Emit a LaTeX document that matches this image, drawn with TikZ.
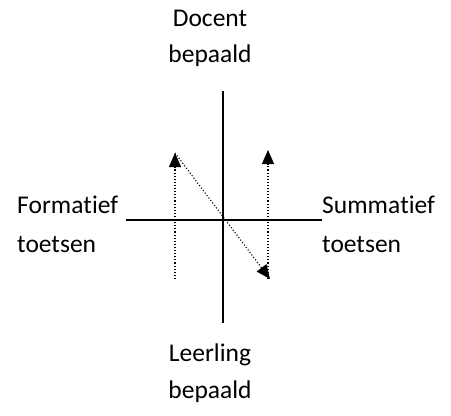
\documentclass[tikz,border=0pt]{standalone}
\usepackage{fontspec}
\setmainfont[Ligatures=NoCommon]{Carlito}
\usetikzlibrary{arrows.meta}
\begin{document}
\begin{tikzpicture}[x=1pt,y=-1pt,
  lbl/.style={font=\fontsize{25.5}{30}\selectfont, inner sep=0pt},
  axis/.style={line width=1.6pt},
  dot/.style={dotted, line width=1.1pt, -{Triangle[length=14pt,width=12pt]}}]
\useasboundingbox (0,0) rectangle (451,416);
\coordinate (vt) at (223,91);
\coordinate (vb) at (223,323);
\coordinate (hl) at (126,220);
\coordinate (hr) at (322,220);
\draw[axis] (vt) -- (vb);
\draw[axis] (hl) -- (hr);
\coordinate (l0) at (175,279);
\coordinate (l1) at (175,153);
\coordinate (r0) at (268,279);
\coordinate (r1) at (268,150);
\coordinate (d1) at (270,279);
\draw[dot] (l0) -- (l1);
\draw[dot] (r0) -- (r1);
\draw[dot] (l1) -- (d1);
\node[lbl] (docent) at (210,18) {Docent};
\node[lbl] (dbep) at (210,56) {bepaald};
\node[lbl] (leer) at (210,355) {Leerling};
\node[lbl] (lbep) at (210,392) {bepaald};
\node[lbl,anchor=west] (form) at (17,205) {Forma\kern0pt tief};
\node[lbl,anchor=west] (ftoe) at (17,245) {toetsen};
\node[lbl,anchor=west] (summ) at (322,205) {Summa\kern0pt tief};
\node[lbl,anchor=west] (stoe) at (322,245) {toetsen};
\end{tikzpicture}
\end{document}
